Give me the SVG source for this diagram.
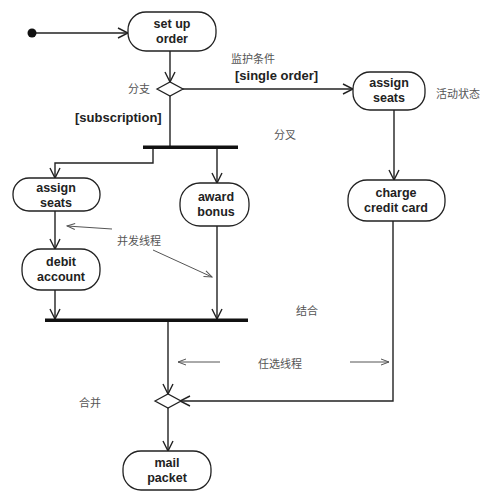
<svg xmlns="http://www.w3.org/2000/svg" width="500" height="498" viewBox="0 0 500 498">
<style>
.node rect{fill:#fff;stroke:#222;stroke-width:1.3}
.t{font-family:"Liberation Sans",Arial,sans-serif;font-weight:bold;font-size:12.5px;fill:#222;text-anchor:middle}
.g{font-family:"Liberation Sans",Arial,sans-serif;font-weight:bold;font-size:13px;fill:#222}
.cn{font-family:"Noto Sans CJK SC",sans-serif;font-size:11px;fill:#555}
.flow{fill:none;stroke:#222;stroke-width:1.4}
.note{fill:none;stroke:#555;stroke-width:1}
.bar{fill:#111}
</style>
<defs>
<marker id="a" viewBox="0 0 12 12" refX="11" refY="6" markerWidth="12" markerHeight="12" markerUnits="userSpaceOnUse" orient="auto">
<path d="M1,1 L11,6 L1,11" fill="none" stroke="#222" stroke-width="1.4"/>
</marker>
<marker id="n" viewBox="0 0 10 10" refX="9" refY="5" markerWidth="10" markerHeight="10" markerUnits="userSpaceOnUse" orient="auto">
<path d="M1,2 L9,5 L1,8" fill="none" stroke="#555" stroke-width="1"/>
</marker>
</defs>
<g id="connectors">
<path class="flow" d="M32,33 H128" marker-end="url(#a)"/>
<path class="flow" d="M170,51 V82" marker-end="url(#a)"/>
<path class="flow" d="M183,89 H353" marker-end="url(#a)"/>
<path class="flow" d="M170,96 V147"/>
<path class="flow" d="M153,147 V163 H55 V178" marker-end="url(#a)"/>
<path class="flow" d="M217,147 V183" marker-end="url(#a)"/>
<path class="flow" d="M55,211 V249" marker-end="url(#a)"/>
<path class="flow" d="M55,290 V319" marker-end="url(#a)"/>
<path class="flow" d="M217,226 V319" marker-end="url(#a)"/>
<path class="flow" d="M394,110 V180" marker-end="url(#a)"/>
<path class="flow" d="M393,221 V401 H180" marker-end="url(#a)"/>
<path class="flow" d="M168,321 V394" marker-end="url(#a)"/>
<path class="flow" d="M168,408 V451" marker-end="url(#a)"/>
<path class="note" d="M112,229 L67,226" marker-end="url(#n)"/>
<path class="note" d="M153,250 L212,277" marker-end="url(#n)"/>
<path class="note" d="M220,362 H178" marker-end="url(#n)"/>
<path class="note" d="M350,362 H389" marker-end="url(#n)"/>
</g>
<g id="start"><circle cx="32" cy="33" r="4.5" fill="#111"/></g>
<g id="setup" class="node"><rect x="128" y="12" width="88" height="39" rx="18"/><text class="t" x="172" y="28">set up</text><text class="t" x="172" y="42.5">order</text></g>
<g id="branch"><polygon points="157,89 170,82 183,89 170,96" fill="#fff" stroke="#222" stroke-width="1.3"/></g>
<g id="assign2" class="node"><rect x="353" y="72" width="72" height="38" rx="17"/><text class="t" x="389" y="87">assign</text><text class="t" x="389" y="101.5">seats</text></g>
<g id="fork"><rect class="bar" x="143" y="145.5" width="95" height="3.5"/></g>
<g id="assign1" class="node"><rect x="13" y="178" width="87" height="33" rx="16"/><text class="t" x="56" y="192">assign</text><text class="t" x="56" y="206.5">seats</text></g>
<g id="award" class="node"><rect x="180" y="183" width="69" height="43" rx="20"/><text class="t" x="216" y="201">award</text><text class="t" x="216" y="215.5">bonus</text></g>
<g id="debit" class="node"><rect x="22" y="249" width="78" height="41" rx="19"/><text class="t" x="61" y="266">debit</text><text class="t" x="61" y="280.5">account</text></g>
<g id="charge" class="node"><rect x="348" y="180" width="97" height="41" rx="19"/><text class="t" x="396" y="197">charge</text><text class="t" x="396" y="211.5">credit card</text></g>
<g id="join"><rect class="bar" x="45" y="318.5" width="203" height="3.5"/></g>
<g id="merge"><polygon points="155,401 168,394 181,401 168,408" fill="#fff" stroke="#222" stroke-width="1.3"/></g>
<g id="mail" class="node"><rect x="123" y="451" width="88" height="39" rx="18"/><text class="t" x="167" y="467">mail</text><text class="t" x="167" y="481.5">packet</text></g>
<g id="labels">
<text class="cn" x="231" y="63">监护条件</text>
<text class="g" x="235" y="80">[single order]</text>
<text class="cn" x="128" y="93">分支</text>
<text class="g" x="75" y="122">[subscription]</text>
<text class="cn" x="436" y="98">活动状态</text>
<text class="cn" x="274" y="139">分叉</text>
<text class="cn" x="117" y="245">并发线程</text>
<text class="cn" x="296" y="315">结合</text>
<text class="cn" x="258" y="368">任选线程</text>
<text class="cn" x="79" y="407">合并</text>
</g>
</svg>
